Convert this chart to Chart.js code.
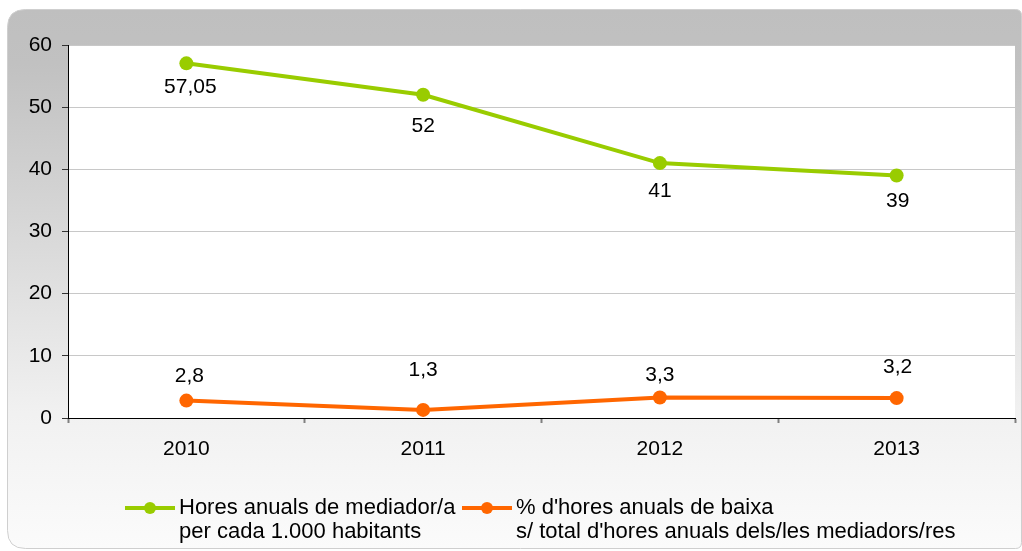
<!DOCTYPE html>
<html>
<head>
<meta charset="utf-8">
<script src="https://cdn.jsdelivr.net/npm/chart.js@4/dist/chart.umd.min.js"></script>
<style>
  html, body { margin: 0; padding: 0; background: #ffffff; }
  canvas { display: block; }
</style>
</head>
<body>
<canvas id="c" width="1022" height="551"></canvas>
<script>
const categories = ['2010', '2011', '2012', '2013'];
const hoursPer1000 = [57.05, 52, 41, 39];
const pctLeave = [2.8, 1.3, 3.3, 3.2];
const hoursLabel = ['Hores anuals de mediador/a', 'per cada 1.000 habitants'];
const leaveLabel = ['% d\'hores anuals de baixa', 's/ total d\'hores anuals dels/les mediadors/res'];
const yTicks = [0, 10, 20, 30, 40, 50, 60];

const GREEN = '#99cc00';
const ORANGE = '#ff6600';
const FONT = '"Liberation Sans", Arial, sans-serif';

Chart.defaults.font.family = FONT;
Chart.defaults.font.size = 21;
Chart.defaults.color = '#000000';

function fmt(v) { return String(v).replace('.', ','); }

const bgPlugin = {
  id: 'bg',
  beforeDraw(chart) {
    const ctx = chart.ctx;
    const x0 = 7.5, y0 = 9.5, x1 = 1021.5, y1 = 548.5;
    ctx.save();
    const g = ctx.createLinearGradient(0, y0, 0, y1);
    g.addColorStop(0, '#bfbfbf');
    g.addColorStop(0.1, '#c1c1c1');
    g.addColorStop(0.75, '#f1f1f1');
    g.addColorStop(1, '#fbfbfb');
    ctx.beginPath();
    const r = 18, r2 = 6;
    ctx.moveTo(x0 + r, y0);
    ctx.lineTo(x1 - r2, y0);
    ctx.quadraticCurveTo(x1, y0, x1, y0 + r2);
    ctx.lineTo(x1, y1 - r2);
    ctx.quadraticCurveTo(x1, y1, x1 - r2, y1);
    ctx.lineTo(x0 + r, y1);
    ctx.quadraticCurveTo(x0, y1, x0, y1 - r);
    ctx.lineTo(x0, y0 + r);
    ctx.quadraticCurveTo(x0, y0, x0 + r, y0);
    ctx.closePath();
    ctx.fillStyle = g;
    ctx.fill();
    ctx.strokeStyle = '#cfcfcf';
    ctx.lineWidth = 1;
    ctx.stroke();
    const a = chart.chartArea;
    ctx.fillStyle = '#ffffff';
    ctx.fillRect(a.left, a.top, a.right - a.left, a.bottom - a.top);
    ctx.restore();
  }
};

// per-point vertical label offsets (styling, as placed in the original)
const labelStyle = [
  { dx: [4, 0, 0, 1], dy: [24, 31, 28, 26] },
  { dx: [3, 0, 0, 1], dy: [-24, -40, -22, -31] }
];

const labelPlugin = {
  id: 'vals',
  afterDatasetsDraw(chart) {
    const ctx = chart.ctx;
    ctx.save();
    ctx.font = '21px ' + FONT;
    ctx.fillStyle = '#000000';
    ctx.textAlign = 'center';
    ctx.textBaseline = 'middle';
    chart.data.datasets.forEach((ds, i) => {
      const meta = chart.getDatasetMeta(i);
      const st = labelStyle[i];
      meta.data.forEach((pt, j) => {
        ctx.fillText(fmt(ds.data[j]), pt.x + st.dx[j], pt.y + st.dy[j]);
      });
    });
    ctx.restore();
  }
};

const legendPlugin = {
  id: 'customLegend',
  afterDraw(chart) {
    const ctx = chart.ctx;
    ctx.save();
    ctx.font = '22px ' + FONT;
    ctx.textAlign = 'left';
    ctx.textBaseline = 'middle';
    const items = [
      { x: 125, ds: chart.data.datasets[0] },
      { x: 462, ds: chart.data.datasets[1] }
    ];
    const y = 508;
    items.forEach(it => {
      ctx.strokeStyle = it.ds.borderColor;
      ctx.lineWidth = 4;
      ctx.beginPath();
      ctx.moveTo(it.x, y);
      ctx.lineTo(it.x + 50, y);
      ctx.stroke();
      ctx.fillStyle = it.ds.borderColor;
      ctx.beginPath();
      ctx.arc(it.x + 25, y, 6, 0, Math.PI * 2);
      ctx.fill();
      ctx.fillStyle = '#000000';
      it.ds.legendLines.forEach((t, k) => {
        ctx.fillText(t, it.x + 54, y + k * 24);
      });
    });
    ctx.restore();
  }
};

new Chart(document.getElementById('c'), {
  type: 'line',
  data: {
    labels: categories,
    datasets: [
      {
        label: hoursLabel.join(' '),
        legendLines: hoursLabel,
        data: hoursPer1000,
        borderColor: GREEN,
        backgroundColor: GREEN,
        borderWidth: 4,
        pointRadius: 7,
        pointHoverRadius: 7,
        pointBorderWidth: 0,
        tension: 0
      },
      {
        label: leaveLabel.join(' '),
        legendLines: leaveLabel,
        data: pctLeave,
        borderColor: ORANGE,
        backgroundColor: ORANGE,
        borderWidth: 4,
        pointRadius: 7,
        pointHoverRadius: 7,
        pointBorderWidth: 0,
        tension: 0
      }
    ]
  },
  options: {
    responsive: false,
    animation: false,
    layout: { padding: { left: 0, top: 45, right: 4, bottom: 0 } },
    plugins: {
      legend: { display: false },
      tooltip: { enabled: false }
    },
    scales: {
      x: {
        offset: true,
        grid: {
          offset: true,
          drawOnChartArea: false,
          tickLength: 5,
          tickColor: '#808080',
          tickWidth: 2
        },
        border: { color: '#000000', width: 1 },
        ticks: { padding: 14, font: { size: 21 }, color: '#000000' },
        afterFit(scale) { scale.height = 133; }
      },
      y: {
        min: 0,
        max: 60,
        afterBuildTicks(scale) { scale.ticks = yTicks.map(v => ({ value: v })); },
        grid: {
          color: '#c8c8c8',
          tickColor: '#333333',
          tickLength: 6,
          lineWidth: 1
        },
        border: { color: '#000000', width: 1 },
        ticks: { padding: 10, font: { size: 21 }, color: '#000000' },
        afterFit(scale) { scale.width = 68; }
      }
    }
  },
  plugins: [bgPlugin, labelPlugin, legendPlugin]
});
</script>
</body>
</html>
